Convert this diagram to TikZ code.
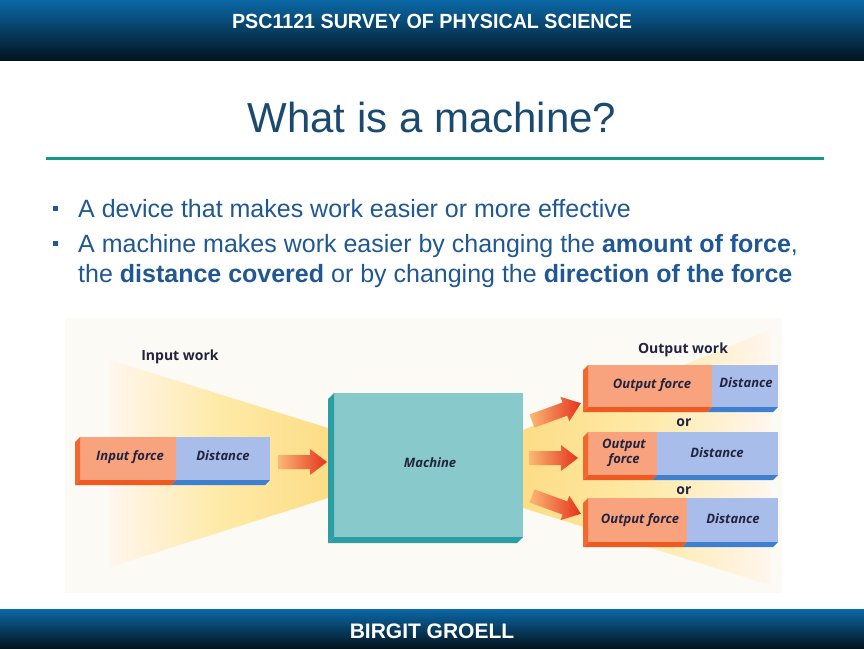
\documentclass[tikz,border=0pt]{standalone}
\usepackage{fontspec}
\usepackage{graphicx}
\setmainfont{Liberation Sans}
\newfontfamily\diagfont{Open Sans}
\definecolor{hdrtop}{HTML}{0B68A6}
\definecolor{hdrbot}{HTML}{03141F}
\definecolor{titleblue}{HTML}{1A4A70}
\definecolor{bulletblue}{HTML}{1F5894}
\definecolor{rulegreen}{HTML}{17998A}
\definecolor{diagbg}{HTML}{FBFAF5}
\definecolor{funlight}{HTML}{FFF6EE}
\definecolor{funmid}{HTML}{FEEAA8}
\definecolor{funyellow}{HTML}{FDDD86}
\definecolor{orfront}{HTML}{F8A27E}
\definecolor{orside}{HTML}{F2692E}
\definecolor{orbottom}{HTML}{EE5A22}
\definecolor{blfront}{HTML}{A9BDEA}
\definecolor{blbottom}{HTML}{3F7FD0}
\definecolor{tealfront}{HTML}{88C9CC}
\definecolor{tealside}{HTML}{2A9EA2}
\definecolor{arrtail}{HTML}{FBB874}
\definecolor{arrhead}{HTML}{E5321C}
\definecolor{labeltext}{HTML}{22243F}
\tikzset{
  barlabel/.style={font=\diagfont\bfseries\itshape\fontsize{13}{14.5}\selectfont, text=labeltext, align=center, inner sep=0pt},
  headlabel/.style={font=\diagfont\bfseries\fontsize{14}{16}\selectfont, text=labeltext, inner sep=0pt},
  bullettext/.style={anchor=base west, inner sep=0pt, text=bulletblue, font=\fontsize{25}{30}\selectfont},
  bulletsq/.style={fill=bulletblue},
}
% x0 y0 x1 y1 split
\newcommand\forcebar[5]{%
  \fill[orfront] ({#1+5},#2) rectangle (#5,{#4-5});
  \fill[blfront] (#5,#2) rectangle (#3,{#4-5});
  \fill[orside] (#1,{#2+5}) -- ({#1+5},#2) -- ({#1+5},{#4-5}) -- (#1,#4) -- cycle;
  \fill[orbottom] (#1,#4) -- ({#1+5},{#4-5}) -- (#5,{#4-5}) -- ({#5-5},#4) -- cycle;
  \fill[blbottom] ({#5-5},#4) -- (#5,{#4-5}) -- (#3,{#4-5}) -- ({#3-5},#4) -- cycle;
}
% tail x, tail y, angle, length, half shaft, half head
\newcommand\redarr[6]{%
  \begin{scope}[shift={(#1,#2)},rotate=#3]
    \shade[left color=arrtail, right color=arrhead]
      (0,-#5) -- ({#4-17},-#5) -- ({#4-17},-#6) -- (#4,0) -- ({#4-17},#6) -- ({#4-17},#5) -- (0,#5) -- cycle;
  \end{scope}}
\begin{document}
\begin{tikzpicture}[x=1pt,y=-1pt]
\useasboundingbox (0,0) rectangle (864,648);
\fill[white] (0,0) rectangle (864,648);
% header and footer
\shade[top color=hdrtop, bottom color=hdrbot] (0,0) rectangle (864,60);
\node[anchor=base, inner sep=0pt, text=white, font=\bfseries\fontsize{20.5}{24}\selectfont] (hdr) at (432,28) {\scalebox{0.96}[1]{PSC1121 SURVEY OF PHYSICAL SCIENCE}};
\shade[top color=hdrtop, bottom color=hdrbot] (0,609) rectangle (864,648);
\node[anchor=base, inner sep=0pt, text=white, font=\bfseries\fontsize{21}{24}\selectfont] (ftr) at (432,638) {BIRGIT GROELL};
% title
\node[anchor=base, inner sep=0pt, text=titleblue, font=\fontsize{42}{48}\selectfont] (title) at (432,132) {What is a machine?};
\draw[rulegreen, line width=3pt] (46,158) -- (824,158);
% bullets
\fill[bulletsq] (52.5,205.5) rectangle (57.5,210.5);
\fill[bulletsq] (52.5,240.5) rectangle (57.5,245.5);
\node[bullettext] (b1) at (78,217) {A device that makes work easier or more effective};
\node[bullettext] (b2) at (78,252) {A machine makes work easier by changing the \textbf{amount of force},};
\node[bullettext] (b3) at (78,282) {the \textbf{distance covered} or by changing the \textbf{direction of the force}};
% diagram background
\fill[diagbg] (65,318) rectangle (782,593);
% funnels
\shade[left color=funlight, right color=funyellow, middle color=funmid] (110,360) -- (328,428) -- (328,498) -- (110,567) -- cycle;
\shade[left color=funyellow, right color=funlight, middle color=funmid] (523,430) -- (770,330) -- (770,585) -- (523,508) -- cycle;
% input bar
\forcebar{75}{437}{270}{485}{176}
\node[barlabel] (inforce) at (130,457) {Input force};
\node[barlabel] (indist) at (223,456) {Distance};
\node[headlabel] (inwork) at (180,357) {Input work};
% input arrow
\redarr{278}{462}{0}{49}{7}{13}
% machine
\fill[tealfront] (334,393) rectangle (523,537);
\fill[tealside] (328,399) -- (334,393) -- (334,537) -- (328,543) -- cycle;
\fill[tealside] (328,543) -- (334,537) -- (523,537) -- (517,543) -- cycle;
\node[barlabel] (machine) at (430,463) {Machine};
% output arrows
\redarr{532}{421}{20}{52}{7}{13}
\redarr{529}{458}{0}{49}{7}{13}
\redarr{532}{496}{-20}{52}{7}{13}
% output bars
\forcebar{583}{365}{778}{412}{712}
\node[barlabel] (o1f) at (652,385) {Output force};
\node[barlabel] (o1d) at (746,383) {Distance};
\node[headlabel] (or1) at (684,423) {or};
\forcebar{583}{432}{778}{480}{657}
\node[barlabel, font=\diagfont\bfseries\itshape\fontsize{13}{15.5}\selectfont] (o2f) at (624,453) {Output\\force};
\node[barlabel] (o2d) at (717,453) {Distance};
\node[headlabel] (or2) at (684,491) {or};
\forcebar{583}{498}{778}{547}{687}
\node[barlabel] (o3f) at (640,520) {Output force};
\node[barlabel] (o3d) at (733,519) {Distance};
\node[headlabel] (outwork) at (683,350) {Output work};
\end{tikzpicture}
\end{document}
